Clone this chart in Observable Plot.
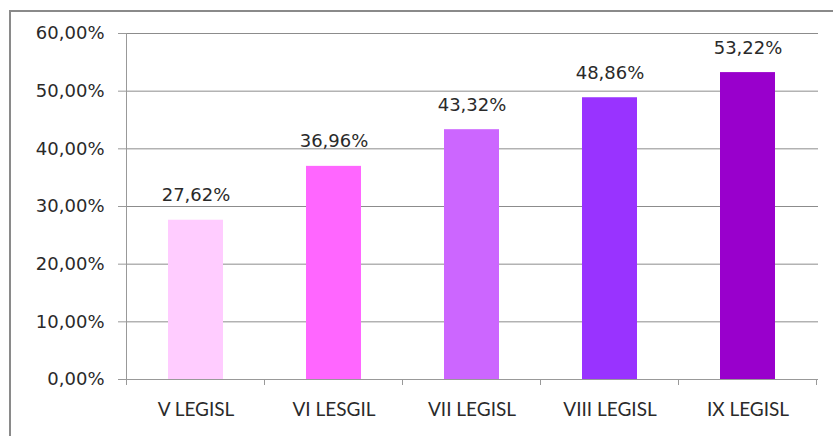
<!DOCTYPE html>
<html>
<head>
<meta charset="utf-8">
<script src="https://cdn.jsdelivr.net/npm/d3@7"></script>
<script src="https://cdn.jsdelivr.net/npm/@observablehq/plot@0.6"></script>
<style>
  html, body { margin: 0; padding: 0; background: #fff; overflow: hidden; }
  #wrap { position: relative; width: 833px; height: 436px; }
  #frame { position: absolute; left: 9px; top: 10px; width: 840px; height: 440px; border: 2px solid #8a8a8a; box-sizing: border-box; pointer-events: none; }
  svg { position: absolute; left: 0; top: 0; }
</style>
</head>
<body>
<div id="wrap"><div id="frame"></div></div>
<script>
const categories = ["V LEGISL", "VI LESGIL", "VII LEGISL", "VIII LEGISL", "IX LEGISL"];
const values = [27.62, 36.96, 43.32, 48.86, 53.22];
const colors = ["#FFCCFF", "#FF66FF", "#CC66FF", "#9933FF", "#9900CC"];
const yTicks = [0, 10, 20, 30, 40, 50, 60];

const data = categories.map((c, i) => ({cat: c, value: values[i], color: colors[i]}));
const fmt = v => v.toFixed(2).replace(".", ",") + "%";
const numFont = "'DejaVu Sans', Verdana, sans-serif";
const catFont = "Lato, 'Open Sans', sans-serif";

// tick marks at the band boundaries of the category axis
function boundaryTicks(index, scales, values, dims) {
  const g = d3.create("svg:g");
  const step = scales.x.step ? scales.x.step() : scales.x.bandwidth();
  const bw = scales.x.bandwidth();
  const y0 = scales.y(0);
  const edges = categories.map(c => scales.x(c) - (step - bw) / 2);
  edges.push(scales.x(categories[categories.length - 1]) + bw + (step - bw) / 2);
  for (const x of edges) {
    g.append("line").attr("x1", x).attr("x2", x).attr("y1", y0).attr("y2", y0 + 6)
      .attr("stroke", "#999").attr("stroke-width", 1);
  }
  return g.node();
}

const chart = Plot.plot({
  width: 833,
  height: 436,
  marginLeft: 126,
  marginRight: 15,
  marginTop: 33,
  marginBottom: 57,
  style: {background: "transparent", overflow: "visible"},
  x: {domain: categories, paddingInner: 0.6, paddingOuter: 0.3},
  y: {domain: [0, 60]},
  color: {type: "identity"},
  marks: [
    Plot.gridY(yTicks, {stroke: "#8c8c8c", strokeOpacity: 1}),
    Plot.barY(data, {x: "cat", y: "value", fill: "color"}),
    Plot.ruleY([0], {stroke: "#999"}),
    Plot.frame({anchor: "left", stroke: "#999"}),
    boundaryTicks,
    Plot.text(data, {x: "cat", y: "value", text: d => fmt(d.value), dy: -19, lineAnchor: "bottom",
      fontSize: 18, fontFamily: numFont, fill: "#2a2a2a"}),
    Plot.axisY({ticks: yTicks, tickFormat: fmt, tickSize: 8, tickPadding: 14, stroke: "#999",
      fontSize: 18, fontFamily: numFont, fill: "#2a2a2a", label: null}),
    Plot.axisX({tickSize: 0, tickPadding: 23, fontSize: 19, fontFamily: catFont, fill: "#2a2a2a", label: null})
  ]
});
document.getElementById("wrap").prepend(chart);
</script>
</body>
</html>
